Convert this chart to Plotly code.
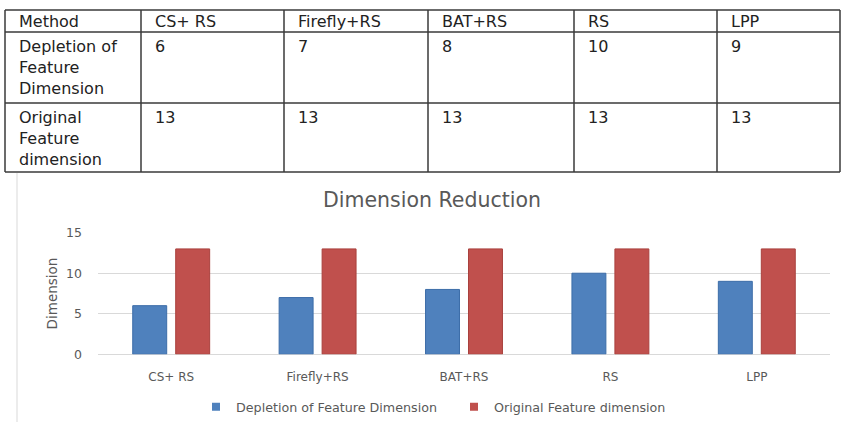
import plotly.graph_objects as go

# Data
methods = ["CS+ RS", "Firefly+RS", "BAT+RS", "RS", "LPP"]
depleted_dim = [6, 7, 8, 10, 9]
original_dim = [13, 13, 13, 13, 13]
row_labels = ["Depletion of<br>Feature<br>Dimension", "Original<br>Feature<br>dimension"]
header_label = "Method"
y_ticks = [0, 5, 10, 15]

W, H = 844, 422
FONT = "DejaVu Sans"
BLUE = "#4F81BD"
RED = "#C0504D"
GREY_TXT = "#595959"
TABLE_TXT = "#222222"
GRID_LINE = "#3a3a3a"

def py(px):
    return 1 - px / H

def pxx(px):
    return px / W

fig = go.Figure()

# ---- summary table above the chart (grid + cell texts) ----
col_widths = [136, 143, 144, 146, 143, 123]
row_heights = [22, 71, 69]
tbl_left, tbl_top = 5, 10
col_edges = [tbl_left]
for w in col_widths:
    col_edges.append(col_edges[-1] + w)
row_edges = [tbl_top]
for h in row_heights:
    row_edges.append(row_edges[-1] + h)

table_rows = [
    [header_label] + methods,
    [row_labels[0]] + [str(v) for v in depleted_dim],
    [row_labels[1]] + [str(v) for v in original_dim],
]

shapes = []
for ye in row_edges:
    shapes.append(dict(type="line", xref="paper", yref="paper",
                       x0=pxx(col_edges[0]), x1=pxx(col_edges[-1]),
                       y0=py(ye), y1=py(ye),
                       line=dict(color=GRID_LINE, width=1.5)))
for xe in col_edges:
    shapes.append(dict(type="line", xref="paper", yref="paper",
                       x0=pxx(xe), x1=pxx(xe),
                       y0=py(row_edges[0]), y1=py(row_edges[-1]),
                       line=dict(color=GRID_LINE, width=1.5)))
# left edge of the chart frame
shapes.append(dict(type="line", xref="paper", yref="paper",
                   x0=pxx(17), x1=pxx(17), y0=py(173), y1=py(422),
                   line=dict(color="#D9D9D9", width=1)))

annotations = []
for r, row in enumerate(table_rows):
    for c, txt in enumerate(row):
        if r == 0:
            y, yanchor = py((row_edges[0] + row_edges[1]) / 2), "middle"
        else:
            y, yanchor = py(row_edges[r] + 3), "top"
        annotations.append(dict(
            text=txt, xref="paper", yref="paper",
            x=pxx(col_edges[c] + 12), y=y,
            xanchor="left", yanchor=yanchor, align="left",
            showarrow=False,
            font=dict(family=FONT, size=16, color=TABLE_TXT),
        ))

# ---- bar chart ----
fig.add_trace(go.Bar(
    x=methods, y=depleted_dim, name="Depletion of Feature Dimension",
    marker=dict(color=BLUE, line=dict(color="#3C6DA8", width=1)),
    showlegend=False,
))
fig.add_trace(go.Bar(
    x=methods, y=original_dim, name="Original Feature dimension",
    marker=dict(color=RED, line=dict(color="#A9403D", width=1)),
    showlegend=False,
))
# legend keys (small squares)
for name, col in [("Depletion of Feature Dimension", BLUE),
                  ("Original Feature dimension", RED)]:
    fig.add_trace(go.Scatter(
        x=[None], y=[None], mode="markers", name=name,
        marker=dict(symbol="square", size=8, color=col),
    ))

fig.update_layout(
    width=W, height=H,
    margin=dict(l=0, r=0, t=0, b=0, autoexpand=False),
    paper_bgcolor="white",
    plot_bgcolor="white",
    barmode="group",
    bargap=0.413,
    bargroupgap=0.21,
    font=dict(family=FONT, color=GREY_TXT),
    xaxis=dict(
        domain=[pxx(98), pxx(830)],
        showgrid=False,
        showline=False,
        ticks="",
        tickfont=dict(size=12, color=GREY_TXT),
        ticklabelstandoff=14,
        automargin=False,
    ),
    yaxis=dict(
        domain=[py(354.3), py(232.7)],
        range=[0, 15],
        tickvals=y_ticks,
        showgrid=True,
        gridcolor="#D9D9D9",
        gridwidth=1.2,
        zeroline=True,
        zerolinecolor="#D9D9D9",
        zerolinewidth=1.2,
        showline=False,
        ticks="",
        tickfont=dict(size=12.5, color=GREY_TXT),
        ticklabelstandoff=15,
        automargin=False,
        title=dict(text="Dimension", font=dict(size=13.5, color=GREY_TXT), standoff=5),
    ),
    title=dict(
        text="Dimension Reduction",
        x=432 / W, xanchor="center",
        y=py(199.5), yanchor="middle",
        font=dict(family=FONT, size=20.5, color=GREY_TXT),
    ),
    legend=dict(
        orientation="h",
        x=196 / W, xanchor="left",
        y=py(407), yanchor="middle",
        font=dict(size=12.7, color=GREY_TXT),
        bgcolor="rgba(0,0,0,0)",
        itemwidth=30,
        entrywidth=213,
        entrywidthmode="pixels",
    ),
    shapes=shapes,
    annotations=annotations,
)

fig.write_html("out.html")
